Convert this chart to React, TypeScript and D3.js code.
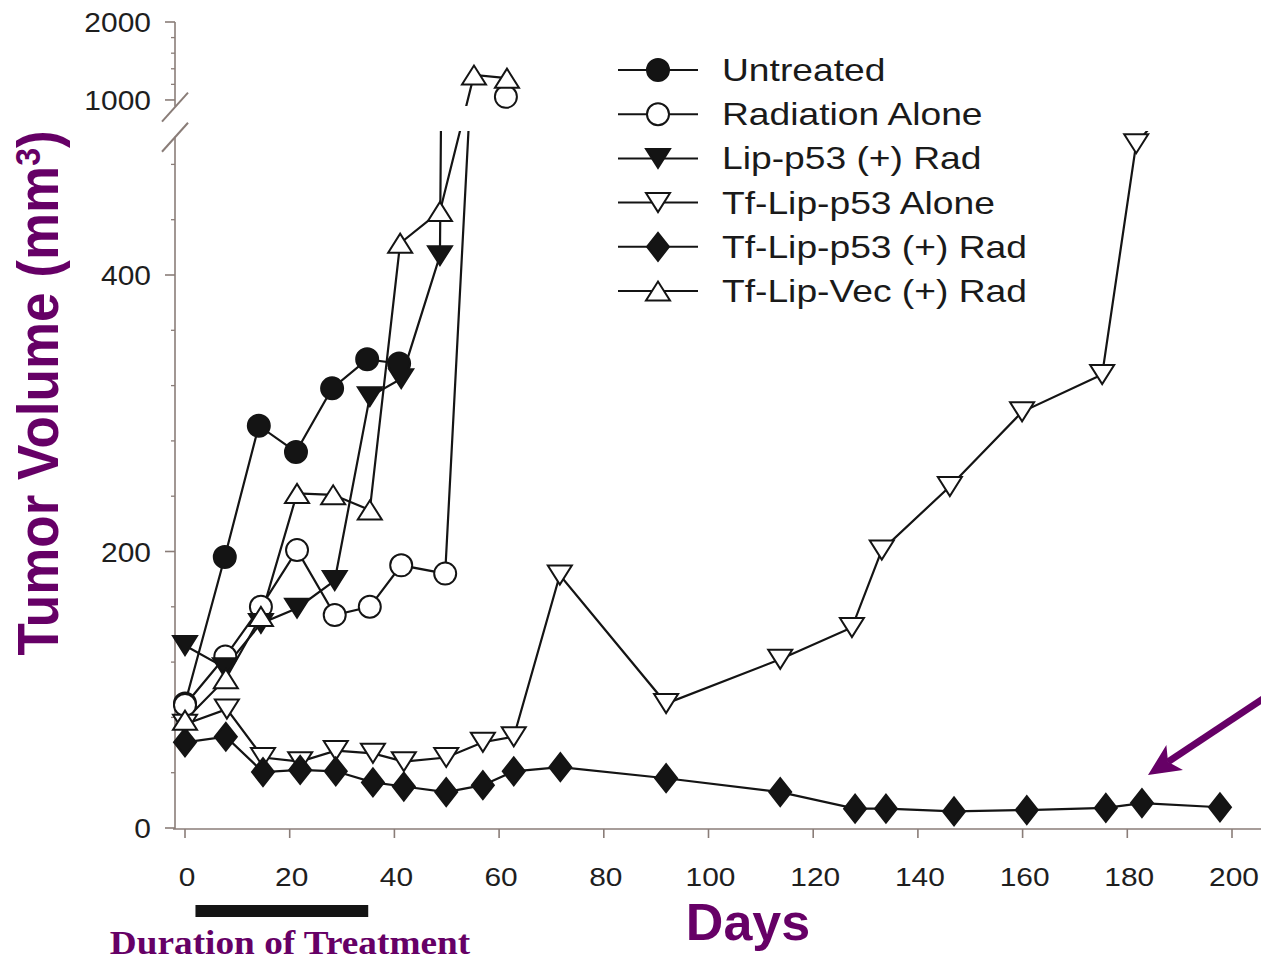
import React from 'react';
import * as d3 from 'd3';

// days since start / tumour volume (mm3); null = gap in the line
const untreatedDays = [0, 7.6, 14.1, 21.2, 28.1, 34.8, 40.9];
const untreatedVol = [90, 196, 291, 272, 318, 339, 336];

const radiationDays = [0, 7.7, 14.5, 21.4, 28.6, 35.3, 41.3, 49.7, 54.2, 57, 61.3];
const radiationVol = [89, 124, 160, 201, 154, 160, 190, 184, 650, null, 1040];

const lipP53RadDays = [0, 7.6, 14.5, 21.4, 28.6, 35.3, 41.3, 48.7, 48.9];
const lipP53RadVol = [132, 116, 148, 159, 179, 312, 325, 414, 700];

const tfLipP53Days = [0, 8, 14.9, 22, 28.8, 35.9, 41.8, 49.9, 56.9, 62.8, 71.6, 91.9, 113.7, 127.4, 133.1, 146.1, 159.9, 175.2, 181.7, 184.5];
const tfLipP53Vol = [75, 86, 51, 48, 56, 54, 48, 51, 62, 66, 183, 90, 122, 145, 201, 247, 301, 328, 495, 640];

const tfLipP53RadDays = [0, 7.8, 14.9, 22, 28.8, 35.9, 41.8, 49.9, 56.9, 62.8, 71.7, 91.9, 113.7, 128, 133.9, 146.9, 160.8, 175.9, 182.8, 197.7];
const tfLipP53RadVol = [62, 66, 40.5, 42, 41, 33, 30, 26, 31, 41, 44, 36, 26, 14, 14, 12, 13, 14.5, 18, 15];

const tfLipVecDays = [0, 7.8, 14.5, 21.4, 28.3, 35.3, 41.1, 48.7, 55.2, 61.5];
const tfLipVecVol = [78, 108, 153, 242, 241, 230, 423, 446, 1320, 1280];

const seriesNames = ['Untreated', 'Radiation Alone', 'Lip-p53 (+) Rad', 'Tf-Lip-p53 Alone', 'Tf-Lip-p53 (+) Rad', 'Tf-Lip-Vec (+) Rad'];
const seriesShapes = ['circle', 'circle', 'down', 'down', 'diamond', 'up'];
const seriesFilled = [true, false, true, false, true, false];

const xTicks = [0, 20, 40, 60, 80, 100, 120, 140, 160, 180, 200];
const yTicksLower = [0, 200, 400];
const yTicksUpper = [1000, 2000];
const treatment = [2, 35];
const arrowTarget = { day: 183, vol: 18 };

const INK = '#141414';
const AXIS = '#8a7d78';
const PURPLE = '#660066';
const SANS = '"Liberation Sans", Arial, sans-serif';

const x = d3.scaleLinear().domain([0, 200]).range([185, 1232]);
// broken axis: lower panel 0..500, upper panel 920..2000
const y = d3.scaleLinear().domain([0, 500, 920, 2000]).range([828, 136.75, 106.2, 22]);

const allSeries = [
  [untreatedDays, untreatedVol],
  [radiationDays, radiationVol],
  [lipP53RadDays, lipP53RadVol],
  [tfLipP53Days, tfLipP53Vol],
  [tfLipP53RadDays, tfLipP53RadVol],
  [tfLipVecDays, tfLipVecVol],
].map(([days, vols], i) => ({
  name: seriesNames[i],
  shape: seriesShapes[i],
  filled: seriesFilled[i],
  points: (days as number[]).map((d, j) => ({ day: d, vol: (vols as (number | null)[])[j] })),
}));

function Marker({ shape, filled, cx, cy }: { shape: string; filled: boolean; cx: number; cy: number }) {
  const fill = filled ? INK : '#fff';
  const common = { fill, stroke: INK, strokeWidth: 2 };
  if (shape === 'circle') return <circle cx={cx} cy={cy} r={11} {...common} />;
  if (shape === 'diamond')
    return <polygon points={`${cx},${cy - 14} ${cx + 11},${cy} ${cx},${cy + 14} ${cx - 11},${cy}`} {...common} />;
  const h = 9.5;
  const w = 12;
  if (shape === 'down')
    return <polygon points={`${cx - w},${cy - h} ${cx + w},${cy - h} ${cx},${cy + h}`} {...common} />;
  return <polygon points={`${cx - w},${cy + h} ${cx + w},${cy + h} ${cx},${cy - h}`} {...common} />;
}

export default function App() {
  const line = d3
    .line<{ day: number; vol: number | null }>()
    .defined((d) => d.vol !== null)
    .x((d) => x(d.day))
    .y((d) => y(d.vol as number));

  const visible = (v: number | null) => v !== null && (v <= 500 || v >= 920);

  const lowerTop = y(500);
  const upperBottom = y(915);

  const minorLower = d3.range(40, 500, 40).filter((v) => !yTicksLower.includes(v));
  const minorUpper = d3.range(1200, 2000, 200);

  // arrow annotation
  const tipX = x(arrowTarget.day) + 5;
  const tipY = y(arrowTarget.vol) - 28;
  const dir = [0.833, -0.553];
  const perp = [0.553, 0.833];
  const p = (a: number, b: number) => `${tipX + a * dir[0] + b * perp[0]},${tipY + a * dir[1] + b * perp[1]}`;

  const legendY = (i: number) => 70 + i * 44.2;

  return (
    <svg
      width={1261}
      height={960}
      style={{ position: 'absolute', left: 0, top: 0, background: '#fff' }}
      fontFamily={SANS}
    >
      <defs>
        <clipPath id="lowerClip">
          <rect x={0} y={131} width={1261} height={829} />
        </clipPath>
        <clipPath id="upperClip">
          <rect x={0} y={0} width={1261} height={106} />
        </clipPath>
      </defs>

      {/* axes */}
      <line x1={175} x2={175} y1={y(2000)} y2={upperBottom} stroke={AXIS} strokeWidth={1.6} />
      <line x1={175} x2={175} y1={lowerTop} y2={829} stroke={AXIS} strokeWidth={1.6} />
      <line x1={173} x2={1261} y1={829} y2={829} stroke={AXIS} strokeWidth={1.6} />
      {/* break marks */}
      {[upperBottom, lowerTop].map((yy, i) => (
        <line key={i} x1={162} y1={yy + 15} x2={188} y2={yy - 14} stroke={AXIS} strokeWidth={2} />
      ))}

      {[...yTicksLower, ...yTicksUpper].map((v) => (
        <g key={v}>
          <line x1={165} x2={175} y1={y(v)} y2={y(v)} stroke={AXIS} strokeWidth={1.6} />
          <text
            transform={`translate(151,${y(v) + 10}) scale(1.07,1)`}
            textAnchor="end"
            fontSize={28}
            fill="#1e1e1e"
          >
            {v}
          </text>
        </g>
      ))}
      {[...minorLower, ...minorUpper].map((v) => (
        <line key={v} x1={171} x2={175} y1={y(v)} y2={y(v)} stroke={AXIS} strokeWidth={1.3} />
      ))}

      {xTicks.map((t) => (
        <g key={t}>
          <line x1={x(t)} x2={x(t)} y1={829} y2={838} stroke={AXIS} strokeWidth={1.6} />
          <text
            transform={`translate(${x(t) + 2},${886}) scale(1.15,1)`}
            textAnchor="middle"
            fontSize={26}
            fill="#1e1e1e"
          >
            {t}
          </text>
        </g>
      ))}

      {/* lines */}
      {allSeries.map((s) => (
        <g key={s.name} fill="none" stroke={INK} strokeWidth={2.2}>
          <path d={line(s.points) || ''} clipPath="url(#lowerClip)" />
          <path d={line(s.points) || ''} clipPath="url(#upperClip)" />
        </g>
      ))}

      {/* markers */}
      {allSeries.map((s) => (
        <g key={s.name + 'm'}>
          {s.points
            .filter((d) => visible(d.vol))
            .map((d, j) => (
              <Marker key={j} shape={s.shape} filled={s.filled} cx={x(d.day)} cy={y(d.vol as number)} />
            ))}
        </g>
      ))}

      {/* legend */}
      {allSeries.map((s, i) => (
        <g key={s.name + 'l'}>
          <line x1={618} x2={698} y1={legendY(i)} y2={legendY(i)} stroke={INK} strokeWidth={2} />
          <Marker shape={s.shape} filled={s.filled} cx={658} cy={legendY(i)} />
          <text transform={`translate(722,${legendY(i) + 11}) scale(1.2,1)`} fontSize={31} fill="#1a1a1a">
            {s.name}
          </text>
        </g>
      ))}

      {/* treatment bar */}
      <rect x={x(treatment[0])} y={905} width={x(treatment[1]) - x(treatment[0])} height={12} fill={INK} />
      <text
        transform="translate(290,954) scale(1.13,1)"
        textAnchor="middle"
        fontFamily='"Liberation Serif", "Times New Roman", serif'
        fontWeight="bold"
        fontSize={33}
        fill={PURPLE}
      >
        Duration of Treatment
      </text>

      {/* axis titles */}
      <text x={748} y={940} textAnchor="middle" fontWeight="bold" fontSize={52} fill={PURPLE}>
        Days
      </text>
      <text
        transform="translate(58,393) rotate(-90) scale(1,1.08)"
        textAnchor="middle"
        fontWeight="bold"
        fontSize={53}
        fill={PURPLE}
      >
        Tumor Volume (mm
        <tspan fontSize={32} dy={-17}>
          3
        </tspan>
        <tspan dy={17}>)</tspan>
      </text>

      {/* arrow */}
      <line
        x1={tipX + 24 * dir[0]}
        y1={tipY + 24 * dir[1]}
        x2={tipX + 170 * dir[0]}
        y2={tipY + 170 * dir[1]}
        stroke={PURPLE}
        strokeWidth={7}
      />
      <polygon points={`${tipX},${tipY} ${p(32, 15)} ${p(24, 0)} ${p(32, -15)}`} fill={PURPLE} />
    </svg>
  );
}
